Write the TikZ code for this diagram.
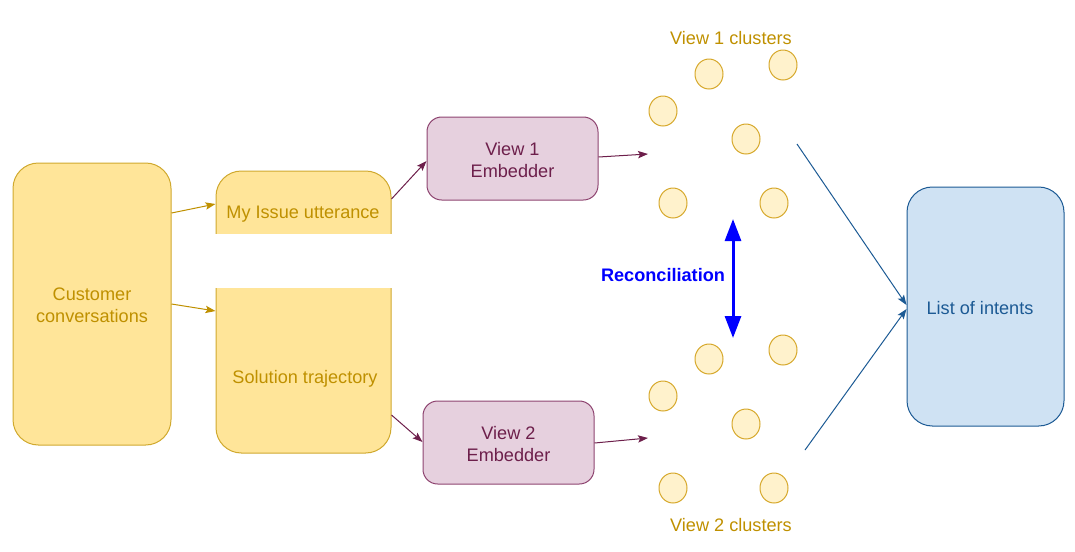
\documentclass[tikz,border=0pt]{standalone}
\usepackage{fontspec}
\setmainfont{Liberation Sans}
\usetikzlibrary{arrows.meta,calc,shapes.geometric}
\definecolor{goldfill}{HTML}{FFE599}
\definecolor{goldline}{HTML}{D0A92E}
\definecolor{goldtext}{HTML}{BF9000}
\definecolor{cfill}{HTML}{FFF2CC}
\definecolor{cline}{HTML}{D6A82A}
\definecolor{pfill}{HTML}{E6D0DE}
\definecolor{pline}{HTML}{8E4470}
\definecolor{ptext}{HTML}{6D1F4B}
\definecolor{bfill}{HTML}{CFE2F3}
\definecolor{bline}{HTML}{1C5A94}
\definecolor{rblue}{HTML}{0000FF}
\begin{document}
\begin{tikzpicture}[x=0.75pt,y=-0.75pt,
  font=\fontsize{13.6}{16.5}\selectfont,
  goldbox/.style={draw=goldline,fill=goldfill,line width=0.75pt,rounded corners=19pt,inner sep=0pt},
  embbox/.style={draw=pline,fill=pfill,line width=0.75pt,rounded corners=11pt,inner sep=0pt,minimum width=128.25pt,minimum height=62.25pt},
  clus/.style={ellipse,draw=cline,fill=cfill,line width=0.75pt,minimum width=21pt,minimum height=22.5pt,inner sep=0pt},
  goldarrow/.style={draw=goldtext,line width=0.75pt,-{Stealth[length=7.5pt,width=5.5pt,inset=1.5pt]}},
  parrow/.style={draw=ptext,line width=0.75pt,-{Stealth[length=7.5pt,width=5.5pt,inset=1.5pt]}},
  barrow/.style={draw=bline,line width=0.75pt,-{Stealth[length=7.5pt,width=5.5pt,inset=1.5pt]}},
  lbl/.style={inner sep=0pt,align=center}
]
\useasboundingbox (0,0) rectangle (1075,551);

% left boxes
\node[goldbox,minimum width=118.5pt,minimum height=211.5pt] (cc) at (92,304) {};
\node[lbl,text=goldtext] (cct) at (92,305.5) {Customer\\conversations};
\node[goldbox,minimum width=131.25pt,minimum height=211.5pt] (sol) at (303.5,312) {};
\fill[white] (213,234) rectangle (394,288);
\node[lbl,text=goldtext] (issue) at (303,214.5) {My Issue utterance};
\node[lbl,text=goldtext] (traj) at (305,378.5) {Solution trajectory};

\draw[goldarrow] (cc.east |- 0,213) -- (sol.west |- 0,204);
\draw[goldarrow] (cc.east |- 0,304) -- (sol.west |- 0,311);

% embedders
\node[embbox] (v1) at (512.5,158.5) {};
\node[lbl,text=ptext] (v1t) at (512.5,160) {View 1\\Embedder};
\node[embbox] (v2) at (508.5,442.5) {};
\node[lbl,text=ptext] (v2t) at (508.5,444) {View 2\\Embedder};

\draw[parrow] (sol.east |- 0,199) -- (v1.west |- 0,161);
\draw[parrow] (sol.east |- 0,415) -- (v2.west |- 0,442);

\coordinate (v1in) at (648,154);
\coordinate (v2in) at (648,438);
\draw[parrow] (v1.east |- 0,157) -- (v1in);
\draw[parrow] (v2.east |- 0,443) -- (v2in);

% clusters view 1
\node[lbl,text=goldtext] (t1) at (731,38) {View 1 clusters};
\node[clus] (a1) at (709,74) {};
\node[clus] (a2) at (783,65) {};
\node[clus] (a3) at (663,111) {};
\node[clus] (a4) at (746,139) {};
\node[clus] (a5) at (673,203) {};
\node[clus] (a6) at (774,203) {};
% clusters view 2
\node[clus] (b1) at (709,359) {};
\node[clus] (b2) at (783,350) {};
\node[clus] (b3) at (663,396) {};
\node[clus] (b4) at (746,424) {};
\node[clus] (b5) at (673,488) {};
\node[clus] (b6) at (774,488) {};
\node[lbl,text=goldtext] (t2) at (731,525) {View 2 clusters};

% reconciliation
\coordinate (rtop) at (733,219);
\coordinate (rbot) at (733,338);
\draw[draw=rblue,line width=2.25pt,{Triangle[length=16.5pt,width=12pt]}-{Triangle[length=16.5pt,width=12pt]}] (rtop) -- (rbot);
\node[lbl,text=rblue,font=\fontsize{13.6}{16.5}\selectfont\bfseries] (rec) at (663,275.5) {Reconciliation};

% list of intents
\node[draw=bline,fill=bfill,line width=0.75pt,rounded corners=19pt,inner sep=0pt,minimum width=117.75pt,minimum height=179.25pt] (list) at (985.5,306.5) {};
\node[lbl,text=bline] (listt) at (980,308.5) {List of intents};
\coordinate (o1) at (797,144);
\coordinate (o2) at (805,450);
\draw[barrow] (o1) -- (list.west |- 0,305);
\draw[barrow] (o2) -- (list.west |- 0,309);
\end{tikzpicture}
\end{document}
